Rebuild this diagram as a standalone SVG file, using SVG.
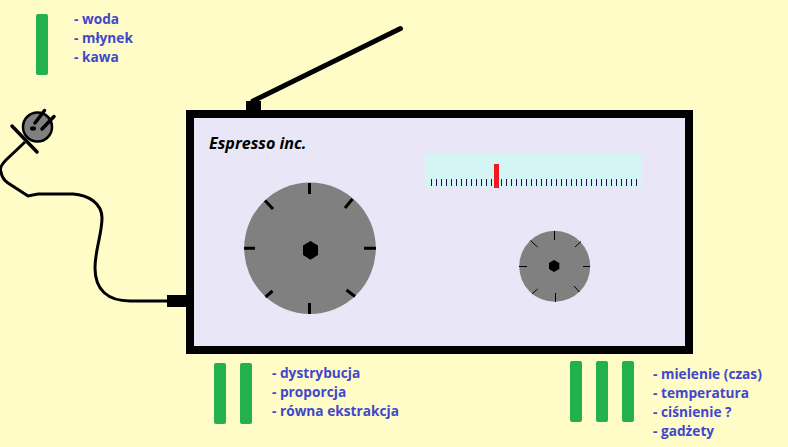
<svg xmlns="http://www.w3.org/2000/svg" width="788" height="447" viewBox="0 0 788 447">
<style>
.t{font-family:"Open Sans","Noto Sans",sans-serif;font-weight:700;font-size:13.7px;fill:#3f48cc}
.bar{fill:#22b14c}
.dial{fill:#808080}
.tk{stroke:#000;fill:none}
</style>
<rect width="788" height="447" fill="#fffcc8"/>
<g id="connectors">
<path d="M25 142L6 160C0 166 0 170 1 172C2 178 5 181 8 183L28 196L38 194L73 194C88 195 102 203 102 218C102 234 95 250 95 268C95 290 108 301 130 301L167 301" fill="none" stroke="#000" stroke-width="3"/>
</g>
<g id="antenna">
<line x1="253" y1="101" x2="400.500" y2="28.500" stroke="#000" stroke-width="5" stroke-linecap="round"/>
<rect x="246" y="101" width="15" height="10" fill="#000"/>
</g>
<g id="plug">
<circle cx="37.500" cy="127" r="14.500" class="dial" stroke="#000" stroke-width="2.500"/>
<path d="M44.500 110.500L35 123M54 116.500L42 129M12 126L37 152" class="tk" stroke-width="3.500" stroke-linecap="round"/>
<ellipse cx="33" cy="128.500" rx="3" ry="2.200" fill="#000"/>
</g>
<g id="socket"><rect x="167" y="295" width="20" height="12" fill="#000"/></g>
<g id="body">
<rect x="190" y="114" width="499" height="236" fill="#e9e7f7" stroke="#000" stroke-width="8"/>
<text x="209" y="149" font-family="'Open Sans','Noto Sans',sans-serif" font-weight="700" font-style="italic" font-size="16.100" fill="#000">Espresso inc.</text>
</g>
<g id="meter">
<rect x="425" y="154" width="217" height="34" fill="#d3f6f5"/>
<path transform="translate(.5 0)" d="M431 179v7M436 179v7M441 179v7M446 179v7M451 179v7M456 179v7M461 179v7M466 179v7M471 179v7M476 179v7M481 179v7M486 179v7M491 179v7M501 179v7M506 179v7M511 179v7M516 179v7M521 179v7M526 179v7M531 179v7M536 179v7M541 179v7M546 179v7M551 179v7M556 179v7M561 179v7M566 179v7M571 179v7M576 179v7M581 179v7M586 179v7M591 179v7M596 179v7M601 179v7M606 179v7M611 179v7M616 179v7M621 179v7M626 179v7M631 179v7M636 179v7" stroke="#2a0a4a" stroke-width="1"/>
<rect x="494" y="164" width="5" height="24" fill="#ed1c24"/>
</g>
<g id="dial-large">
<circle cx="310" cy="248.200" r="65.800" class="dial"/>
<path class="tk" stroke-width="3" d="M309.500 183V194M309.500 303V314M244 248.300H255M364 248.300H376M265 200.500L273 209M352.500 199L345 208M265.500 297L272.500 291M355 296.500L346.500 290"/>
<polygon points="310.500,241 318,245.500 318,255 310.500,259.800 303,255 303,245.500" fill="#000"/>
</g>
<g id="dial-small">
<circle cx="554.700" cy="266.300" r="35.500" class="dial"/>
<path class="tk" stroke-width="1" d="M554.500 231V240M555.500 293V302M519 266.500H527M583 266.500H590M530.500 240.500L537.500 247M581 241.500L575 247M532 294L537.500 289M579.500 292L574 286"/>
<polygon points="554,260 559.300,263 559.300,269 554,272 549,269 549,263" fill="#000"/>
</g>
<g id="note-top">
<rect class="bar" x="36" y="14" width="12" height="61" rx="2"/>
<text class="t" x="74" y="24">- woda</text>
<text class="t" x="74" y="43">- młynek</text>
<text class="t" x="74" y="62">- kawa</text>
</g>
<g id="note-left">
<rect class="bar" x="214" y="363" width="12" height="61" rx="2"/>
<rect class="bar" x="240" y="363" width="12" height="61" rx="2"/>
<text class="t" x="272" y="378">- dystrybucja</text>
<text class="t" x="272" y="397">- proporcja</text>
<text class="t" x="272" y="416">- równa ekstrakcja</text>
</g>
<g id="note-right">
<rect class="bar" x="570" y="361" width="12" height="61" rx="2"/>
<rect class="bar" x="596" y="361" width="12" height="61" rx="2"/>
<rect class="bar" x="622" y="361" width="12" height="61" rx="2"/>
<text class="t" x="653" y="379">- mielenie (czas)</text>
<text class="t" x="653" y="398">- temperatura</text>
<text class="t" x="653" y="417">- ciśnienie ?</text>
<text class="t" x="653" y="436">- gadżety</text>
</g>
</svg>
